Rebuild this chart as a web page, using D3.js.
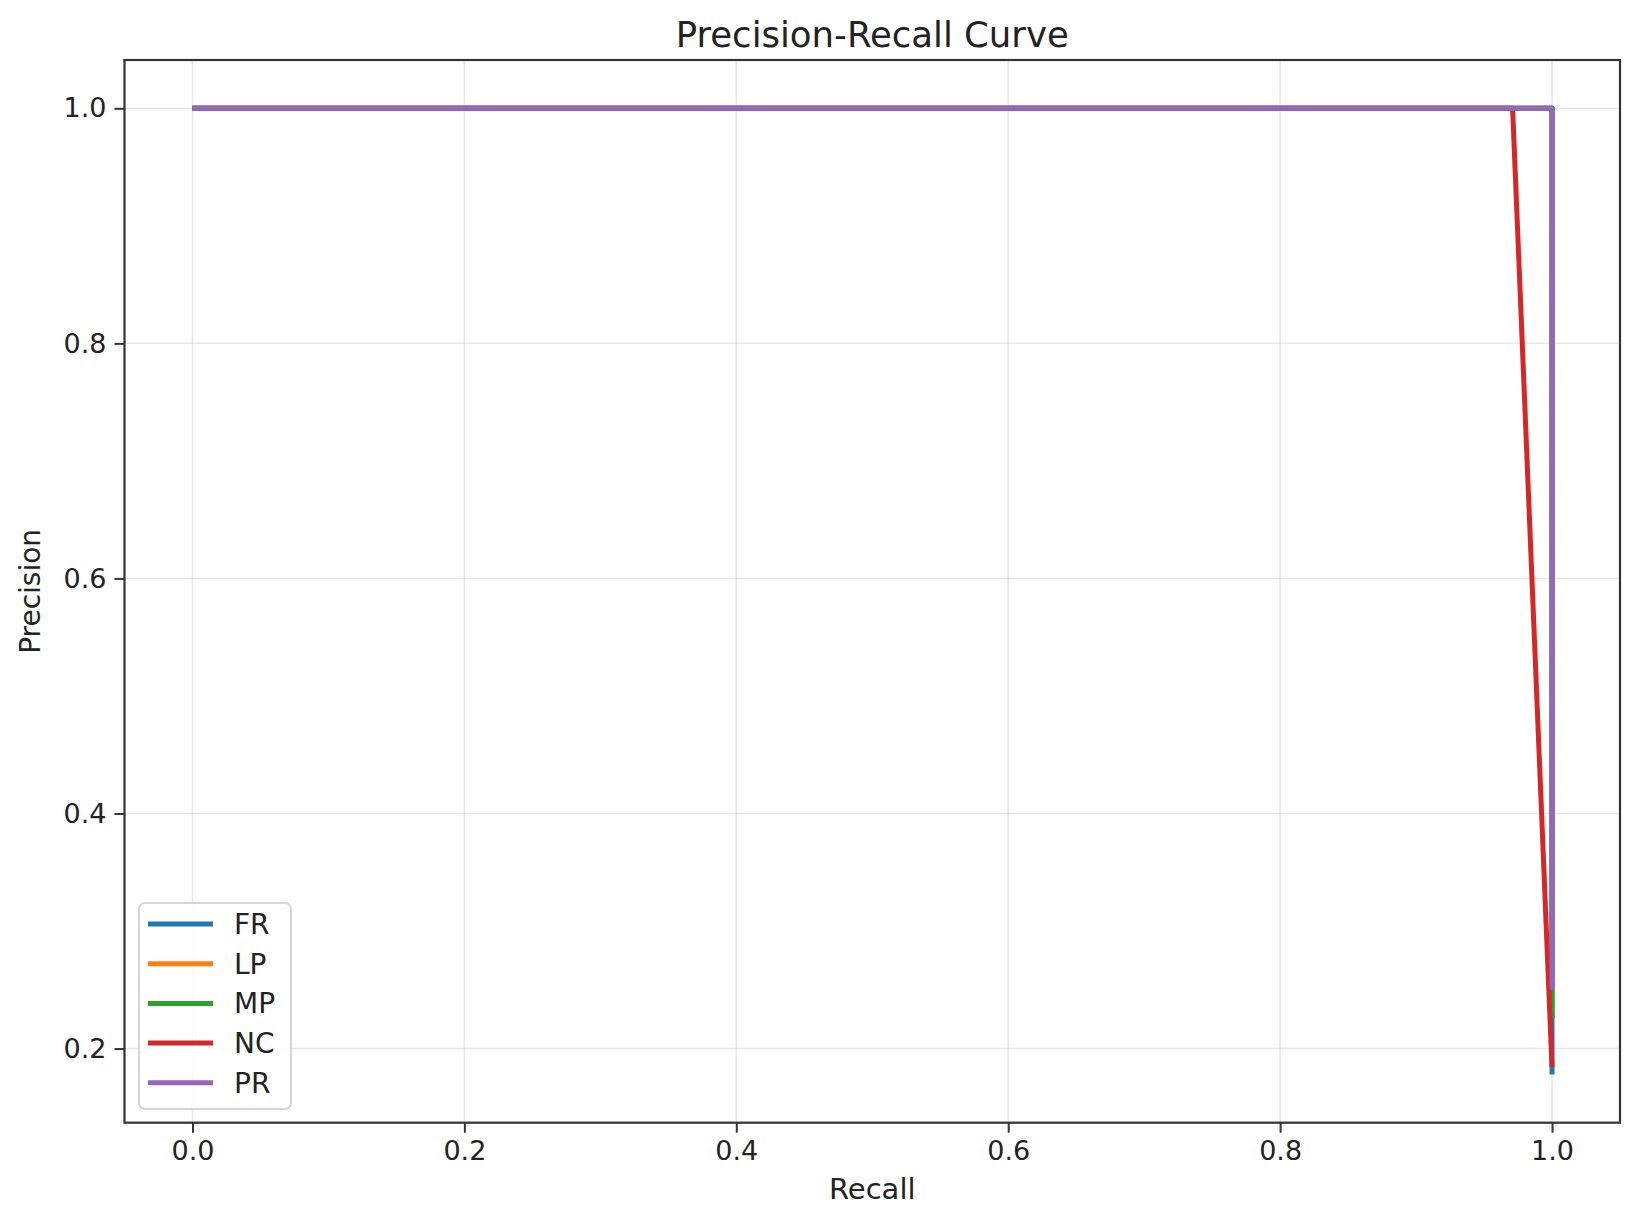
<!DOCTYPE html>
<html>
<head>
<meta charset="utf-8">
<script src="https://cdn.jsdelivr.net/npm/d3@7"></script>
<style>
  html, body { margin: 0; padding: 0; background: #fff; }
  text { font-family: "DejaVu Sans", sans-serif; fill: #222; }
</style>
</head>
<body>
<svg id="chart" width="1637" height="1217"></svg>
<script>
// ---- Data ----
const seriesNames = ["FR", "LP", "MP", "NC", "PR"];
const seriesColors = ["#1f77b4", "#ff7f0e", "#2ca02c", "#d62728", "#9467bd"];
const recallFR = [0.0, 1.0, 1.0];
const precisionFR = [1.0, 1.0, 0.178];
const recallLP = [0.0, 1.0, 1.0];
const precisionLP = [1.0, 1.0, 0.25];
const recallMP = [0.0, 1.0, 1.0];
const precisionMP = [1.0, 1.0, 0.226];
const recallNC = [0.0, 0.971, 1.0];
const precisionNC = [1.0, 1.0, 0.184];
const recallPR = [0.0, 1.0, 1.0];
const precisionPR = [1.0, 1.0, 0.25];
const xTicks = [0.0, 0.2, 0.4, 0.6, 0.8, 1.0];
const yTicks = [0.2, 0.4, 0.6, 0.8, 1.0];

const series = [
  {name: seriesNames[0], color: seriesColors[0], r: recallFR, p: precisionFR},
  {name: seriesNames[1], color: seriesColors[1], r: recallLP, p: precisionLP},
  {name: seriesNames[2], color: seriesColors[2], r: recallMP, p: precisionMP},
  {name: seriesNames[3], color: seriesColors[3], r: recallNC, p: precisionNC},
  {name: seriesNames[4], color: seriesColors[4], r: recallPR, p: precisionPR}
];

// ---- Layout ----
const mLeft = 124.5, mRight = 1620, mTop = 60, mBottom = 1122.7;
const svg = d3.select("#chart");

const allP = series.flatMap(s => s.p);
const pMin = d3.min(allP), pMax = d3.max(allP);
const pPad = (pMax - pMin) * 0.05;
const x = d3.scaleLinear().domain([-0.05, 1.05]).range([mLeft, mRight]);
const y = d3.scaleLinear().domain([pMin - pPad, pMax + pPad]).range([mBottom, mTop]);

// grid
const grid = svg.append("g");
grid.selectAll("line.gx").data(xTicks).enter().append("line")
  .attr("x1", d => x(d)).attr("x2", d => x(d))
  .attr("y1", mTop).attr("y2", mBottom)
  .attr("stroke", "#b0b0b0").attr("stroke-opacity", 0.3).attr("stroke-width", 1.5);
grid.selectAll("line.gy").data(yTicks).enter().append("line")
  .attr("y1", d => y(d)).attr("y2", d => y(d))
  .attr("x1", mLeft).attr("x2", mRight)
  .attr("stroke", "#b0b0b0").attr("stroke-opacity", 0.3).attr("stroke-width", 1.5);

// lines
const line = d3.line().x(d => x(d[0])).y(d => y(d[1]));
svg.append("g").selectAll("path").data(series).enter().append("path")
  .attr("d", s => line(s.r.map((v, i) => [v, s.p[i]])))
  .attr("fill", "none")
  .attr("stroke", s => s.color)
  .attr("stroke-width", 5)
  .attr("stroke-linejoin", "round");

// axes
const xAxis = d3.axisBottom(x).tickValues(xTicks).tickFormat(d3.format(".1f")).tickSize(10).tickPadding(8);
const yAxis = d3.axisLeft(y).tickValues(yTicks).tickFormat(d3.format(".1f")).tickSize(10).tickPadding(8);
const gx = svg.append("g").attr("transform", `translate(0,${mBottom})`).call(xAxis);
const gy = svg.append("g").attr("transform", `translate(${mLeft},0)`).call(yAxis);
[gx, gy].forEach(g => {
  g.select(".domain").remove();
  g.selectAll(".tick line").attr("stroke", "#333").attr("stroke-width", 2);
  g.selectAll(".tick text").style("font-family", "DejaVu Sans, sans-serif")
    .style("font-size", "27px").attr("fill", "#222");
});

// frame
svg.append("rect")
  .attr("x", mLeft).attr("y", mTop)
  .attr("width", mRight - mLeft).attr("height", mBottom - mTop)
  .attr("fill", "none").attr("stroke", "#333").attr("stroke-width", 2.2);

// title & labels
svg.append("text").attr("x", (mLeft + mRight) / 2).attr("y", 47)
  .attr("text-anchor", "middle").style("font-size", "35.5px").text("Precision-Recall Curve");
svg.append("text").attr("x", (mLeft + mRight) / 2).attr("y", 1199)
  .attr("text-anchor", "middle").style("font-size", "29px").text("Recall");
svg.append("text").attr("transform", `translate(40,${(mTop + mBottom) / 2}) rotate(-90)`)
  .attr("text-anchor", "middle").style("font-size", "28px").text("Precision");

// legend
const lg = svg.append("g");
lg.append("rect").attr("x", 139).attr("y", 903).attr("width", 152).attr("height", 206)
  .attr("rx", 6).attr("fill", "#fff").attr("fill-opacity", 0.8)
  .attr("stroke", "#d6d6d6").attr("stroke-width", 2);
const items = lg.selectAll("g.item").data(series).enter().append("g")
  .attr("transform", (d, i) => `translate(0,${924 + i * 39.7})`);
items.append("line").attr("x1", 148).attr("x2", 213).attr("y1", 0).attr("y2", 0)
  .attr("stroke", d => d.color).attr("stroke-width", 5);
items.append("text").attr("x", 234).attr("y", 0).attr("dy", "0.36em")
  .style("font-size", "28px").text(d => d.name);
</script>
</body>
</html>
